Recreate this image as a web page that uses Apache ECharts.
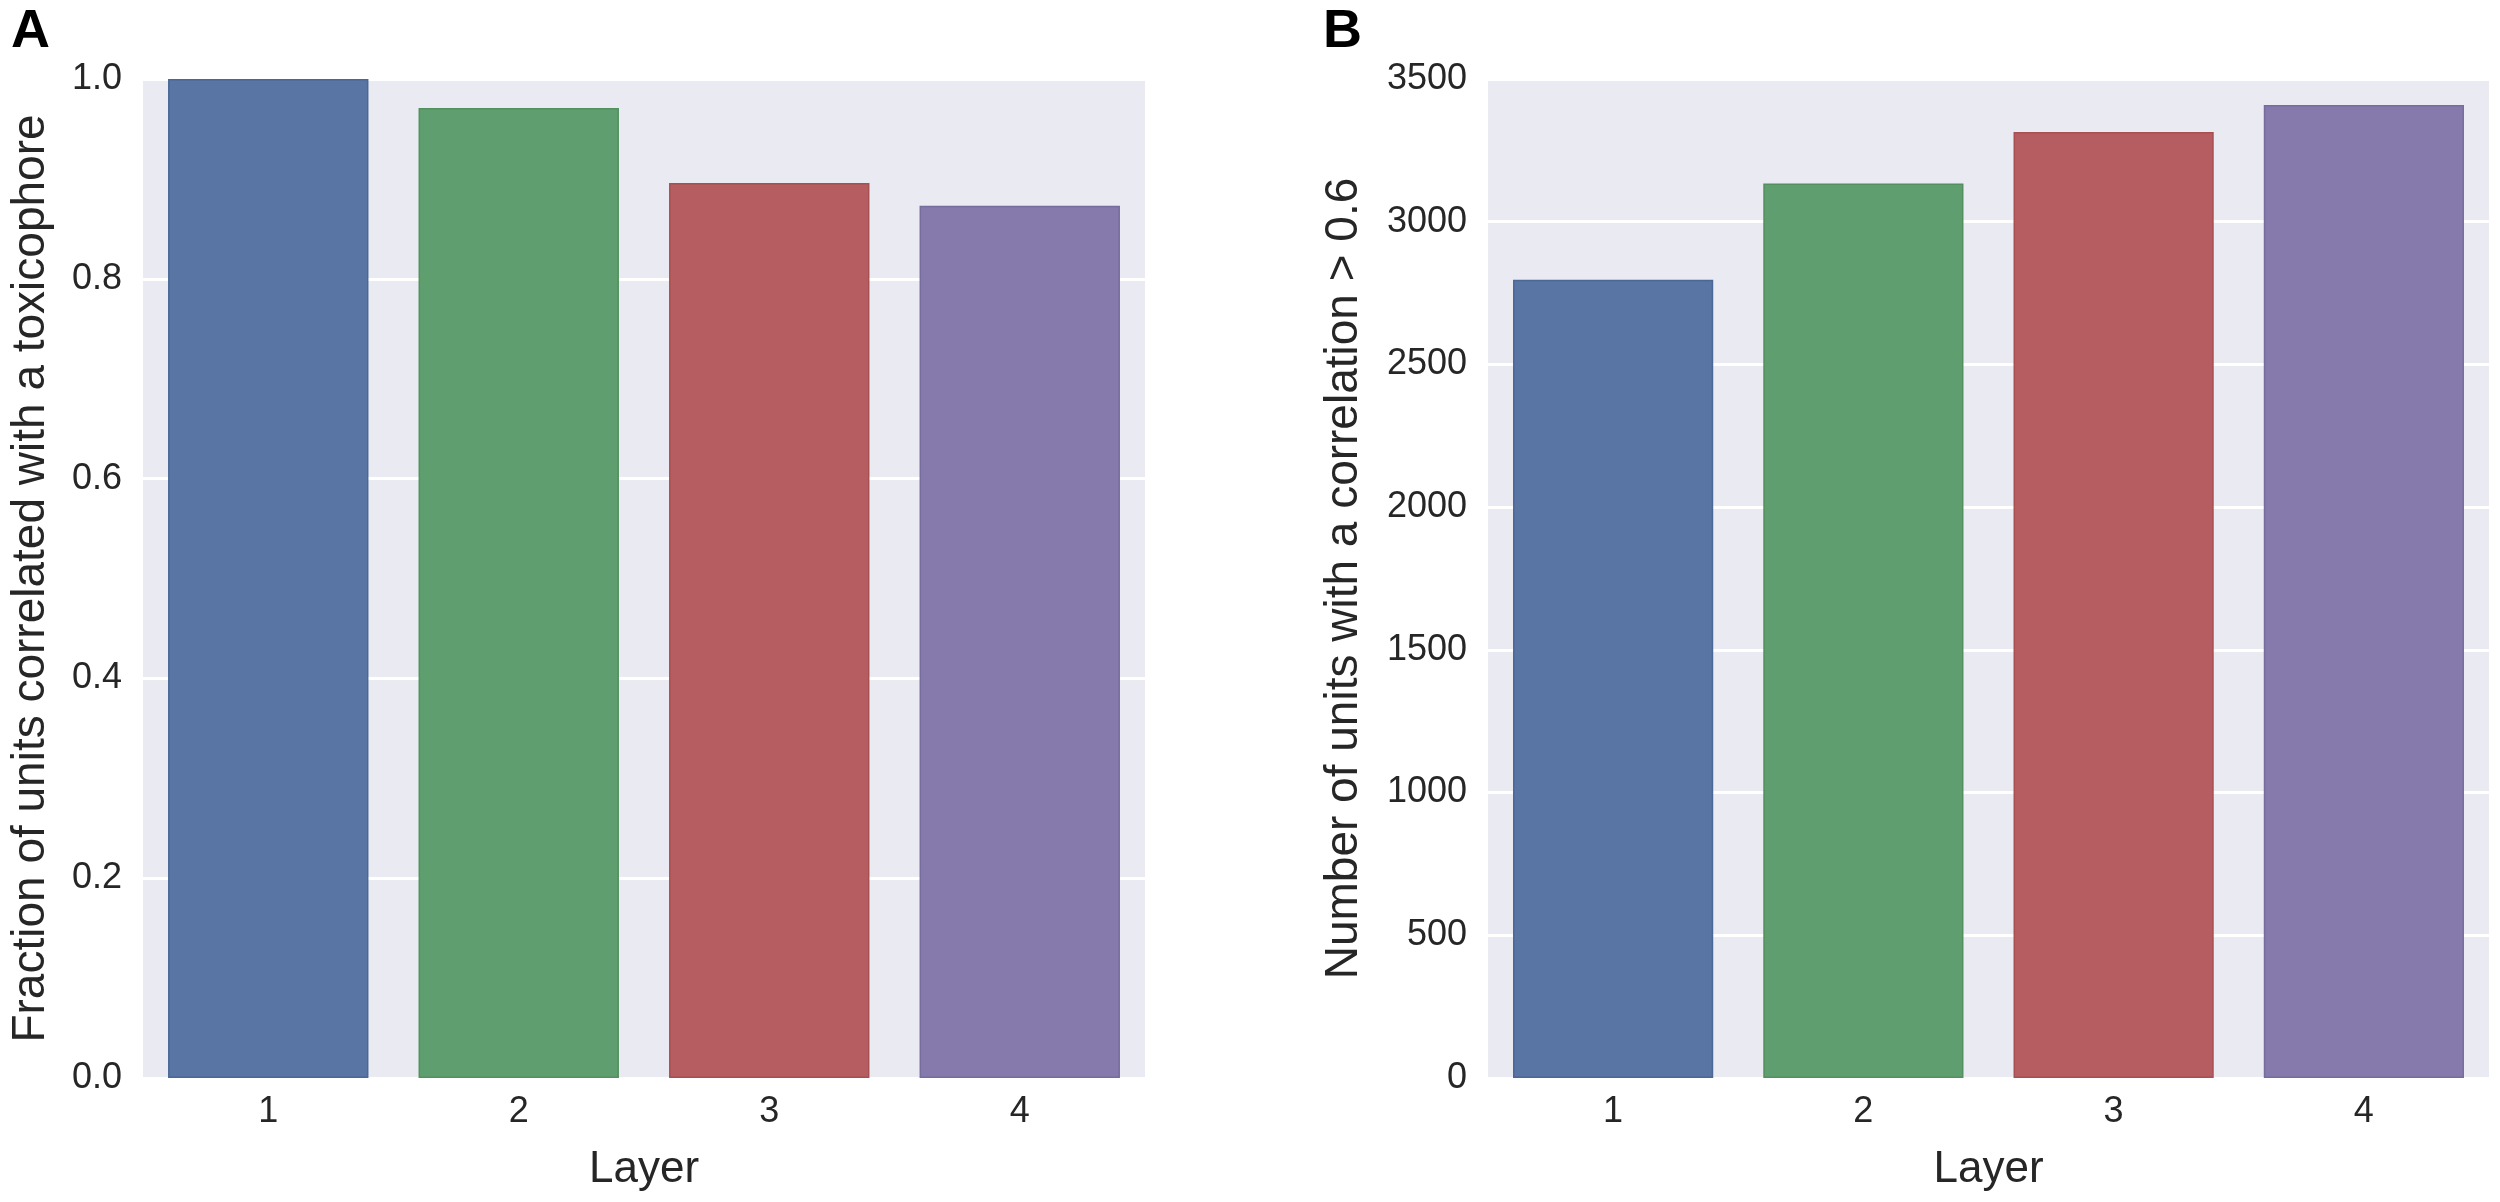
<!DOCTYPE html>
<html>
<head>
<meta charset="utf-8">
<script src="https://cdn.jsdelivr.net/npm/echarts@6/dist/echarts.min.js"></script>
<style>
html,body{margin:0;padding:0;background:#fff;}
#chart{width:2500px;height:1202px;}
</style>
</head>
<body>
<div id="chart"></div>
<script>
// ---- data ----
var layers = ['1', '2', '3', '4'];
var fractionCorrelated = [1.0, 0.971, 0.896, 0.873];
var unitsAboveThreshold = [2797, 3134, 3314, 3409];
var leftTicks = [0.0, 0.2, 0.4, 0.6, 0.8, 1.0];
var rightTicks = [0, 500, 1000, 1500, 2000, 2500, 3000, 3500];
var palette = ['#5975A4', '#5F9E6E', '#B55D60', '#857AAB'];
var edgePalette = ['#4A6796', '#52905F', '#A84F52', '#776C9E'];

var FONT = '"Liberation Sans", Arial, sans-serif';
var TXT = '#262626';

function barData(vals) {
  return vals.map(function (v, i) {
    return { value: v, itemStyle: { color: palette[i], borderColor: edgePalette[i], borderWidth: 1.5 } };
  });
}

function yAxisCfg(gridIndex, ticks, name, gap, fmt) {
  return {
    type: 'value', gridIndex: gridIndex,
    min: ticks[0], max: ticks[ticks.length - 1], interval: ticks[1] - ticks[0],
    name: name, nameLocation: 'middle', nameGap: gap, nameRotate: 90,
    nameTextStyle: { fontFamily: FONT, fontSize: 46, color: TXT },
    axisLine: { show: false }, axisTick: { show: false },
    axisLabel: { fontFamily: FONT, fontSize: 36, color: TXT, margin: 21, padding: [0, 0, 10, 0], formatter: fmt },
    splitLine: { show: true, lineStyle: { color: '#FFFFFF', width: 3 } }
  };
}

function xAxisCfg(gridIndex) {
  return {
    type: 'category', gridIndex: gridIndex, data: layers,
    name: 'Layer', nameLocation: 'middle', nameGap: 70,
    nameTextStyle: { fontFamily: FONT, fontSize: 44, color: TXT },
    axisLine: { show: false }, axisTick: { show: false },
    axisLabel: { fontFamily: FONT, fontSize: 36, color: TXT, margin: 16 },
    splitLine: { show: false }
  };
}

var chart = echarts.init(document.getElementById('chart'), null, { renderer: 'canvas' });
chart.setOption({
  animation: false,
  backgroundColor: '#FFFFFF',
  title: [
    { text: 'A', left: 6, top: 0, textStyle: { fontFamily: FONT, fontSize: 54, fontWeight: 'bold', color: '#000' } },
    { text: 'B', left: 1318, top: 0, textStyle: { fontFamily: FONT, fontSize: 54, fontWeight: 'bold', color: '#000' } }
  ],
  grid: [
    { left: 143, top: 79, width: 1002, height: 999, show: true, backgroundColor: '#EAEAF2', borderWidth: 0 },
    { left: 1488, top: 79, width: 1001, height: 999, show: true, backgroundColor: '#EAEAF2', borderWidth: 0 }
  ],
  xAxis: [xAxisCfg(0), xAxisCfg(1)],
  yAxis: [
    yAxisCfg(0, leftTicks, 'Fraction of units correlated with a toxicophore', 89, function (v) { return v.toFixed(1); }),
    yAxisCfg(1, rightTicks, 'Number of units with a correlation > 0.6', 121, function (v) { return String(v); })
  ],
  series: [
    { type: 'bar', xAxisIndex: 0, yAxisIndex: 0, data: barData(fractionCorrelated), barCategoryGap: '20%' },
    { type: 'bar', xAxisIndex: 1, yAxisIndex: 1, data: barData(unitsAboveThreshold), barCategoryGap: '20%' }
  ]
});
</script>
</body>
</html>
